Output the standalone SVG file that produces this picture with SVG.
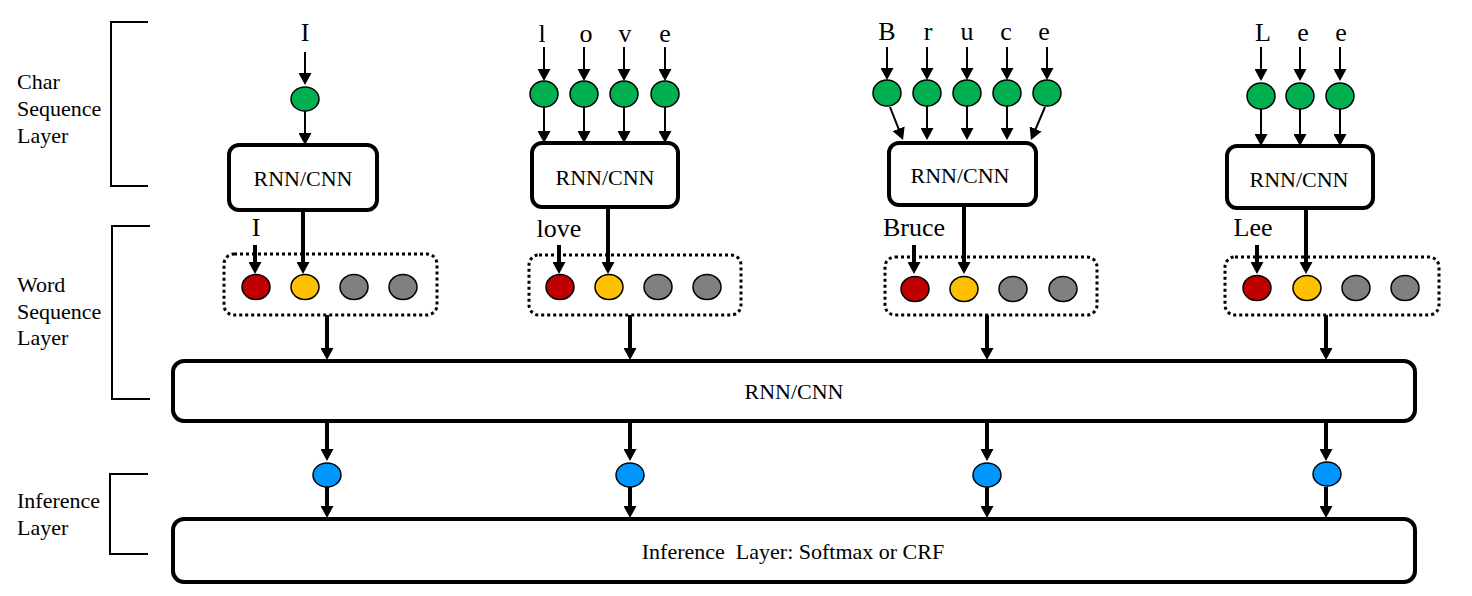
<svg xmlns="http://www.w3.org/2000/svg" width="1472" height="596" viewBox="0 0 1472 596">
<style>
.lbl{font-family:"Liberation Serif","Times New Roman",serif;font-size:22px;fill:#000}
.ch{font-family:"Liberation Serif","Times New Roman",serif;font-size:26px;fill:#000;text-anchor:middle}
.bt{font-family:"Liberation Serif","Times New Roman",serif;font-size:22px;fill:#000;text-anchor:middle}
.box{fill:#fff;stroke:#000;stroke-width:4}
.dot{fill:none;stroke:#000;stroke-width:3;stroke-dasharray:3 3}
.br{fill:none;stroke:#000;stroke-width:2}
.thin{stroke:#000;stroke-width:2;fill:none;marker-end:url(#ah)}
.thick{stroke:#000;stroke-width:4;fill:none;marker-end:url(#ah)}
.g{fill:#00B050;stroke:#000;stroke-width:1.5}
.r{fill:#C00000;stroke:#000;stroke-width:1.5}
.y{fill:#FFC000;stroke:#000;stroke-width:1.5}
.k{fill:#808080;stroke:#000;stroke-width:1.5}
.b{fill:#0096FF;stroke:#000;stroke-width:1.5}
</style>
<defs>
<marker id="ah" markerUnits="userSpaceOnUse" markerWidth="12" markerHeight="13" refX="3" refY="6.5" orient="auto">
<path d="M0,0 L12,6.5 L0,13 z" fill="#000"/>
</marker>
</defs>
<rect width="1472" height="596" fill="#fff"/>

<g id="layer-labels">
<path class="br" d="M148,22 H111 V186 H148"/>
<path class="br" d="M150,226 H112 V399 H150"/>
<path class="br" d="M148,474 H110 V554 H148"/>
<text class="lbl" x="17" y="89">Char</text>
<text class="lbl" x="17" y="116">Sequence</text>
<text class="lbl" x="17" y="143">Layer</text>
<text class="lbl" x="17" y="292">Word</text>
<text class="lbl" x="17" y="319">Sequence</text>
<text class="lbl" x="17" y="345">Layer</text>
<text class="lbl" x="17" y="508">Inference</text>
<text class="lbl" x="17" y="535">Layer</text>
</g>

<g id="connectors">
<!-- col 1 -->
<line class="thin" x1="305" y1="52" x2="305" y2="76"/>
<line class="thin" x1="305" y1="111" x2="305" y2="136"/>
<line class="thick" x1="303" y1="210" x2="303" y2="265"/>
<line class="thick" x1="255" y1="245" x2="255" y2="265"/>
<line class="thick" x1="327" y1="315" x2="327" y2="351"/>
<line class="thick" x1="327" y1="422" x2="327" y2="452"/>
<line class="thick" x1="327" y1="487" x2="327" y2="509"/>
<!-- col 2 -->
<line class="thin" x1="544" y1="47" x2="544" y2="72"/>
<line class="thin" x1="584" y1="47" x2="584" y2="72"/>
<line class="thin" x1="624" y1="47" x2="624" y2="72"/>
<line class="thin" x1="665" y1="47" x2="665" y2="72"/>
<line class="thin" x1="544" y1="107" x2="544" y2="134"/>
<line class="thin" x1="584" y1="107" x2="584" y2="134"/>
<line class="thin" x1="624" y1="107" x2="624" y2="134"/>
<line class="thin" x1="665" y1="107" x2="665" y2="134"/>
<line class="thick" x1="608" y1="207" x2="608" y2="265"/>
<line class="thick" x1="559" y1="245" x2="559" y2="265"/>
<line class="thick" x1="630" y1="315" x2="630" y2="351"/>
<line class="thick" x1="630" y1="422" x2="630" y2="452"/>
<line class="thick" x1="630" y1="487" x2="630" y2="509"/>
<!-- col 3 -->
<line class="thin" x1="887" y1="47" x2="887" y2="71"/>
<line class="thin" x1="927" y1="47" x2="927" y2="71"/>
<line class="thin" x1="967" y1="47" x2="967" y2="71"/>
<line class="thin" x1="1007" y1="47" x2="1007" y2="71"/>
<line class="thin" x1="1047" y1="47" x2="1047" y2="71"/>
<line class="thin" x1="890" y1="107" x2="899.7" y2="131.6"/>
<line class="thin" x1="927" y1="106" x2="927" y2="131"/>
<line class="thin" x1="967" y1="106" x2="967" y2="131"/>
<line class="thin" x1="1007" y1="106" x2="1007" y2="131"/>
<line class="thin" x1="1045" y1="107" x2="1034.5" y2="131.7"/>
<line class="thick" x1="964" y1="205" x2="964" y2="265"/>
<line class="thick" x1="914" y1="245" x2="914" y2="265"/>
<line class="thick" x1="987" y1="315" x2="987" y2="351"/>
<line class="thick" x1="987" y1="422" x2="987" y2="452"/>
<line class="thick" x1="987" y1="487" x2="987" y2="509"/>
<!-- col 4 -->
<line class="thin" x1="1261" y1="47" x2="1261" y2="72"/>
<line class="thin" x1="1300" y1="47" x2="1300" y2="72"/>
<line class="thin" x1="1340" y1="47" x2="1340" y2="72"/>
<line class="thin" x1="1261" y1="109" x2="1261" y2="137"/>
<line class="thin" x1="1300" y1="109" x2="1300" y2="137"/>
<line class="thin" x1="1340" y1="109" x2="1340" y2="137"/>
<line class="thick" x1="1306" y1="208" x2="1306" y2="265"/>
<line class="thick" x1="1257" y1="245" x2="1257" y2="265"/>
<line class="thick" x1="1326" y1="315" x2="1326" y2="351"/>
<line class="thick" x1="1326" y1="422" x2="1326" y2="452"/>
<line class="thick" x1="1326" y1="487" x2="1326" y2="509"/>
</g>

<g id="word-I">
<text class="ch" x="305" y="41">I</text>
<ellipse class="g" cx="305" cy="99" rx="14" ry="12"/>
<rect class="box" x="229" y="145" width="148" height="65" rx="10"/>
<text class="bt" x="303" y="186">RNN/CNN</text>
<text class="ch" x="256" y="236">I</text>
<rect class="dot" x="224" y="254" width="213" height="61" rx="10"/>
<ellipse class="r" cx="256" cy="287" rx="14" ry="12.5"/>
<ellipse class="y" cx="305" cy="287" rx="14" ry="12.5"/>
<ellipse class="k" cx="354" cy="287" rx="14" ry="12.5"/>
<ellipse class="k" cx="403" cy="287" rx="14" ry="12.5"/>
</g>

<g id="word-love">
<text class="ch" x="542" y="42">l</text>
<text class="ch" x="586" y="42">o</text>
<text class="ch" x="625" y="42">v</text>
<text class="ch" x="665" y="42">e</text>
<ellipse class="g" cx="544" cy="94" rx="14" ry="13"/>
<ellipse class="g" cx="584" cy="94" rx="14" ry="13"/>
<ellipse class="g" cx="624" cy="94" rx="14" ry="13"/>
<ellipse class="g" cx="665" cy="94" rx="14" ry="13"/>
<rect class="box" x="532" y="143" width="146" height="64" rx="10"/>
<text class="bt" x="605" y="185">RNN/CNN</text>
<text class="ch" x="559" y="237">love</text>
<rect class="dot" x="529" y="255" width="212" height="60" rx="10"/>
<ellipse class="r" cx="560" cy="287" rx="14" ry="12.5"/>
<ellipse class="y" cx="609" cy="287" rx="14" ry="12.5"/>
<ellipse class="k" cx="658" cy="287" rx="14" ry="12.5"/>
<ellipse class="k" cx="707" cy="287" rx="14" ry="12.5"/>
</g>

<g id="word-Bruce">
<text class="ch" x="887" y="40">B</text>
<text class="ch" x="928" y="40">r</text>
<text class="ch" x="967" y="40">u</text>
<text class="ch" x="1006" y="40">c</text>
<text class="ch" x="1044" y="40">e</text>
<ellipse class="g" cx="887" cy="93" rx="14" ry="13"/>
<ellipse class="g" cx="927" cy="93" rx="14" ry="13"/>
<ellipse class="g" cx="967" cy="93" rx="14" ry="13"/>
<ellipse class="g" cx="1007" cy="93" rx="14" ry="13"/>
<ellipse class="g" cx="1047" cy="93" rx="14" ry="13"/>
<rect class="box" x="889" y="143" width="147" height="62" rx="10"/>
<text class="bt" x="960" y="183">RNN/CNN</text>
<text class="ch" x="914" y="236">Bruce</text>
<rect class="dot" x="885" y="257" width="212" height="58" rx="10"/>
<ellipse class="r" cx="915" cy="289" rx="14" ry="12.5"/>
<ellipse class="y" cx="964" cy="289" rx="14" ry="12.5"/>
<ellipse class="k" cx="1013" cy="289" rx="14" ry="12.5"/>
<ellipse class="k" cx="1063" cy="289" rx="14" ry="12.5"/>
</g>

<g id="word-Lee">
<text class="ch" x="1263" y="41">L</text>
<text class="ch" x="1303" y="41">e</text>
<text class="ch" x="1341" y="41">e</text>
<ellipse class="g" cx="1261" cy="96" rx="14" ry="13"/>
<ellipse class="g" cx="1300" cy="96" rx="14" ry="13"/>
<ellipse class="g" cx="1340" cy="96" rx="14" ry="13"/>
<rect class="box" x="1227" y="146" width="146" height="62" rx="10"/>
<text class="bt" x="1299" y="187">RNN/CNN</text>
<text class="ch" x="1253" y="236">Lee</text>
<rect class="dot" x="1225" y="257" width="214" height="58" rx="10"/>
<ellipse class="r" cx="1257" cy="288" rx="14" ry="12.5"/>
<ellipse class="y" cx="1307" cy="288" rx="14" ry="12.5"/>
<ellipse class="k" cx="1356" cy="288" rx="14" ry="12.5"/>
<ellipse class="k" cx="1405" cy="288" rx="14" ry="12.5"/>
</g>

<g id="word-rnn">
<rect class="box" x="173" y="361" width="1242" height="60" rx="11"/>
<text class="bt" x="794" y="399">RNN/CNN</text>
</g>

<g id="inference-nodes">
<ellipse class="b" cx="327" cy="475" rx="14" ry="12"/>
<ellipse class="b" cx="630" cy="475" rx="14" ry="12"/>
<ellipse class="b" cx="987" cy="475" rx="14" ry="12"/>
<ellipse class="b" cx="1327" cy="474" rx="14" ry="12"/>
</g>

<g id="inference-layer">
<rect class="box" x="173" y="519" width="1242" height="63" rx="11"/>
<text class="bt" x="793" y="559" xml:space="preserve">Inference  Layer: Softmax or CRF</text>
</g>
</svg>
